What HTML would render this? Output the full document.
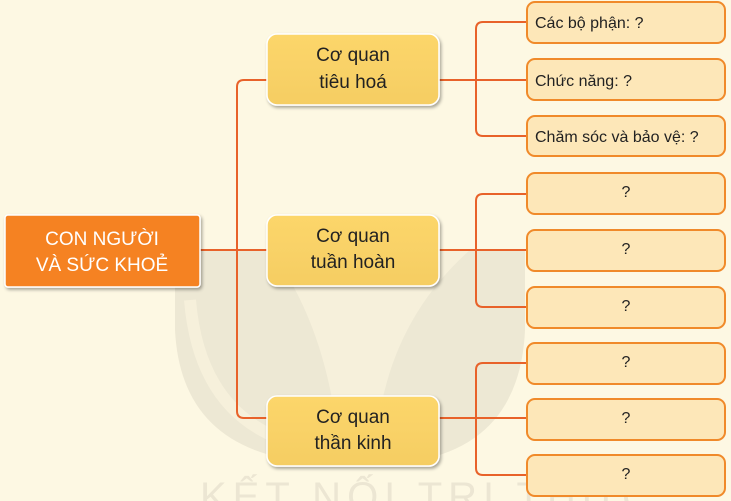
<!DOCTYPE html>
<html><head><meta charset="utf-8"><style>
body{margin:0;background:#fdf8e3;}
svg{display:block;font-family:"Liberation Sans",sans-serif;}
</style></head><body>
<svg width="731" height="501" viewBox="0 0 731 501">
<defs>
<linearGradient id="gm" x1="0" y1="0" x2="0" y2="1"><stop offset="0" stop-color="#fcd66a"/><stop offset="1" stop-color="#f5cd63"/></linearGradient>
<filter id="sh" x="-10%" y="-10%" width="130%" height="140%"><feDropShadow dx="1.5" dy="2" stdDeviation="1.5" flood-color="#000" flood-opacity="0.35"/></filter>
</defs>
<rect width="731" height="501" fill="#fdf8e3"/>
<!-- watermark -->
<path d="M175 250 H525 V330 Q520 440 420 460 Q350 470 270 455 Q180 430 175 330 Z" fill="#ebe5d1" opacity="0.9"/>
<path d="M270 250 Q330 330 340 460 L375 460 Q380 330 470 250 Z" fill="#f7f1dc" opacity="0.8"/>
<path d="M190 300 Q200 420 300 445" stroke="#f7f1dc" stroke-width="12" fill="none" opacity="0.8"/>
<text x="200" y="510" font-size="40" fill="#ece6d3" letter-spacing="6">KẾT NỐI TRI THỨC</text>
<g stroke="#e8622a" stroke-width="2" fill="none">
<line x1="200" y1="250" x2="267" y2="250"/>
<path d="M267 80 H244 Q237 80 237 87 V411 Q237 418 244 418 H267"/>
<line x1="439" y1="80" x2="476" y2="80"/>
<path d="M527 22 H483 Q476 22 476 29 V129 Q476 136 483 136 H527"/>
<line x1="476" y1="80" x2="527" y2="80"/>
<line x1="439" y1="250" x2="527" y2="250"/>
<path d="M527 194 H483 Q476 194 476 201 V300 Q476 307 483 307 H527"/>
<line x1="439" y1="418" x2="527" y2="418"/>
<path d="M527 363 H483 Q476 363 476 370 V468 Q476 475 483 475 H527"/>
</g>
<rect x="5" y="215" width="195" height="72" rx="3" fill="#f58220" stroke="#fff" stroke-width="1.5" filter="url(#sh)"/>
<text x="102" y="245" font-size="19" fill="#fff" text-anchor="middle">CON NGƯỜI</text>
<text x="102" y="271" font-size="19" fill="#fff" text-anchor="middle">VÀ SỨC KHOẺ</text>
<g filter="url(#sh)" fill="url(#gm)" stroke="#fff" stroke-width="1.5">
<rect x="267" y="34" width="172" height="71" rx="10"/>
<rect x="267" y="215" width="172" height="71" rx="10"/>
<rect x="267" y="396" width="172" height="70" rx="10"/>
</g>
<g font-size="19" fill="#222" text-anchor="middle">
<text x="353" y="61">Cơ quan</text><text x="353" y="88">tiêu hoá</text>
<text x="353" y="242">Cơ quan</text><text x="353" y="268">tuần hoàn</text>
<text x="353" y="423">Cơ quan</text><text x="353" y="449">thần kinh</text>
</g>
<g fill="#fde7b8" stroke="#f08a2a" stroke-width="2">
<rect x="527" y="2" width="198" height="41" rx="8"/>
<rect x="527" y="59" width="198" height="41" rx="8"/>
<rect x="527" y="116" width="198" height="40" rx="8"/>
<rect x="527" y="173" width="198" height="41" rx="8"/>
<rect x="527" y="230" width="198" height="41" rx="8"/>
<rect x="527" y="287" width="198" height="41" rx="8"/>
<rect x="527" y="343" width="198" height="41" rx="8"/>
<rect x="527" y="399" width="198" height="41" rx="8"/>
<rect x="527" y="455" width="198" height="41" rx="8"/>
</g>
<g font-size="16" fill="#222">
<text x="535" y="28">Các bộ phận: ?</text>
<text x="535" y="86">Chức năng: ?</text>
<text x="535" y="142">Chăm sóc và bảo vệ: ?</text>
</g>
<g font-size="16" fill="#222" text-anchor="middle">
<text x="626" y="197">?</text><text x="626" y="254">?</text><text x="626" y="311">?</text>
<text x="626" y="367">?</text><text x="626" y="423">?</text><text x="626" y="479">?</text>
</g>
</svg>
</body></html>
